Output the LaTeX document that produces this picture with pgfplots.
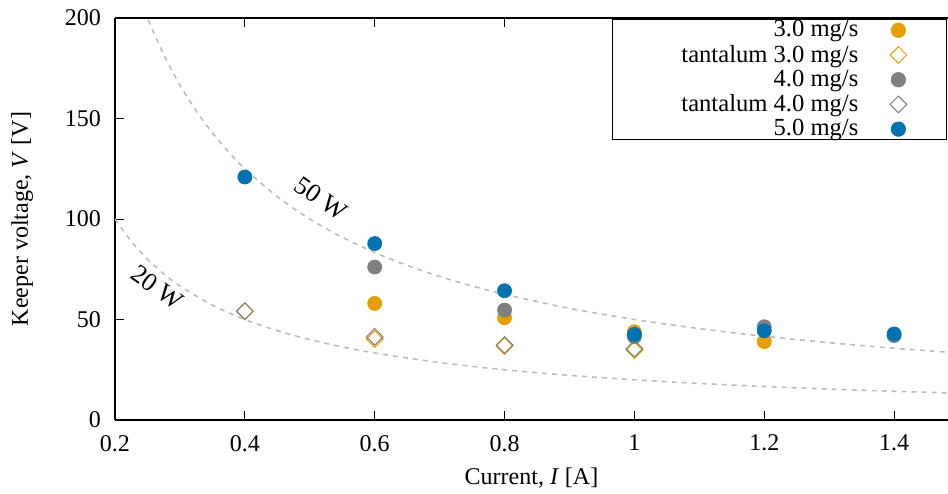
\documentclass[border=0pt]{standalone}
\usepackage{pgfplots}
\pgfplotsset{compat=1.18}
\usepackage{fontspec}
\setmainfont{Liberation Serif}
\definecolor{corange}{HTML}{E69F00}
\definecolor{cgray}{HTML}{808080}
\definecolor{cblue}{HTML}{0072B2}
\definecolor{cdash}{HTML}{BDBDBD}
\begin{document}
\begin{tikzpicture}[font=\fontsize{12pt}{14pt}\selectfont]
\begin{axis}[
  scale only axis,
  width=416.5pt, height=201pt,
  xmin=0.2, xmax=1.483, ymin=0, ymax=200,
  axis x line*=box, axis y line*=left,
  axis line style={line width=0.6pt, black},
  tick align=inside, major tick length=4.5pt,
  tick style={line width=0.5pt, black},
  xtick={0.2,0.4,...,1.4},
  xticklabels={0.2,0.4,0.6,0.8,1,1.2,1.4},
  ytick={0,50,100,150,200},
  /pgf/number format/assume math mode=true,
  xticklabel style={yshift=-4pt},
  yticklabel style={xshift=-3.5pt},
  xlabel={Current, \textit{I} [A]},
  ylabel={Keeper voltage, \textit{V} [V]},
  xlabel style={at={(axis description cs:0.5,-0.144)}, anchor=center},
  ylabel style={at={(axis description cs:-0.1116,0.5)}, anchor=center},
  legend style={at={(rel axis cs:1,1)}, anchor=north east, xshift=-0.5pt, yshift=-0.5pt,
    draw=black, line width=0.6pt, inner xsep=1pt, inner ysep=-1.5pt, row sep=-1.5pt,
    cells={anchor=east}, font=\fontsize{12.3pt}{13pt}\selectfont},
  legend plot pos=right,
  legend image code/.code={\path[draw=none,fill=none] (0pt,0pt) -- (41pt,0pt); \draw[#1] plot coordinates {(18pt,0pt)};},
  legend cell align=right,
]
\addplot[only marks, mark=*, mark size=3.5pt, color=corange]
  coordinates {(0.6,58.0) (0.8,50.9) (1.0,43.9) (1.2,39.0)};
\addlegendentry{\makebox[120pt][r]{3.0 mg/s}}
\addplot[only marks, mark=square, mark size=2.95pt, color=corange, mark options={rotate=45, line width=0.5pt, fill=none}]
  coordinates {(0.4,54.0) (0.6,40.3) (0.8,36.8) (1.0,34.8)};
\addlegendentry{\makebox[120pt][r]{tantalum 3.0 mg/s}}
\addplot[only marks, mark=*, mark size=3.5pt, color=cgray]
  coordinates {(0.6,76.1) (0.8,54.7) (1.0,41.4) (1.2,46.4) (1.4,42.0)};
\addlegendentry{\makebox[120pt][r]{4.0 mg/s}}
\addplot[only marks, mark=square, mark size=2.95pt, color=cgray, mark options={rotate=45, line width=0.5pt, fill=none}]
  coordinates {(0.4,54.2) (0.6,41.4) (0.8,37.3) (1.0,35.5)};
\addlegendentry{\makebox[120pt][r]{tantalum 4.0 mg/s}}
\addplot[only marks, mark=*, mark size=3.5pt, color=cblue]
  coordinates {(0.4,120.9) (0.6,87.8) (0.8,64.3) (1.0,42.6) (1.2,44.4) (1.4,42.8)};
\addlegendentry{\makebox[120pt][r]{5.0 mg/s}}
\addplot[cdash, line width=0.8pt, dash pattern=on 2.5pt off 2.5pt, smooth, forget plot]
  coordinates {(0.24,208.33) (0.25,200) (0.275,181.82) (0.3,166.67) (0.325,153.85) (0.35,142.86) (0.375,133.33) (0.4,125) (0.45,111.11) (0.5,100) (0.55,90.91) (0.6,83.33) (0.65,76.92) (0.7,71.43) (0.75,66.67) (0.8,62.5) (0.9,55.56) (1.0,50) (1.1,45.45) (1.2,41.67) (1.3,38.46) (1.4,35.71) (1.5,33.33)};
\addplot[cdash, line width=0.8pt, dash pattern=on 2.5pt off 2.5pt, smooth, forget plot]
  coordinates {(0.2,100) (0.225,88.89) (0.25,80) (0.275,72.73) (0.3,66.67) (0.35,57.14) (0.4,50) (0.45,44.44) (0.5,40) (0.55,36.36) (0.6,33.33) (0.7,28.57) (0.8,25) (0.9,22.22) (1.0,20) (1.1,18.18) (1.2,16.67) (1.3,15.38) (1.4,14.29) (1.5,13.33)};
\node[rotate=-35, font=\fontsize{13pt}{15pt}\selectfont] at (axis cs:0.517,110.2) {50 W};
\node[rotate=-36, font=\fontsize{13pt}{15pt}\selectfont] at (axis cs:0.265,65.9) {20 W};
\coordinate (bl) at (rel axis cs:0,0);
\coordinate (tr) at (rel axis cs:1,1);
\end{axis}
\pgfresetboundingbox
\path ([shift={(-57.5pt,-36.5pt)}]bl) rectangle ([shift={(0pt,9pt)}]tr);
\end{tikzpicture}
\end{document}
